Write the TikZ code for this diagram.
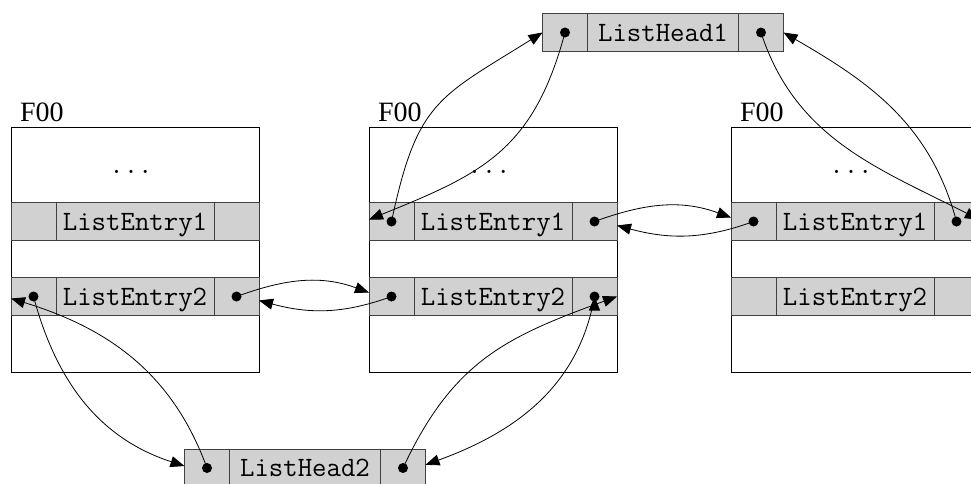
\documentclass[tikz,border=0pt]{standalone}
\usepackage{fontspec}
\newfontfamily\foofont{Liberation Serif}
\usetikzlibrary{%
  positioning
 ,arrows.meta
}

\begin{document}
\begin{tikzpicture}[x=1pt,y=-1pt]
    \useasboundingbox (0,0) rectangle (971,483);
    \clip (0,0) rectangle (971,483);
    \tikzstyle{foo}=[draw,line width=1pt,minimum width=248pt,
      minimum height=245pt,inner sep=0pt]
    \tikzstyle{cell}=[draw=black!75,fill=black!18,line width=1pt,
      minimum height=38pt,inner sep=0pt,outer sep=0pt,
      font=\fontsize{28pt}{30pt}\selectfont\ttfamily]
    \tikzstyle{ptr}=[cell,minimum width=45pt]
    \tikzstyle{ent}=[cell,minimum width=158pt,text depth=0pt]
    \tikzstyle{hd}=[cell,minimum width=151pt,text depth=0pt]
    % the three F00 records
    \foreach \i/\x in {1/135,2/493,3/855}{
      \node[foo](foo\i) at (\x,249.5){};
      \node[anchor=base west,font=\fontsize{28pt}{30pt}\selectfont\foofont]
        (foo\i-lbl) at ([xshift=6pt,yshift=5pt]foo\i.north west){F00};
      \node[anchor=base,font=\fontsize{28pt}{30pt}\selectfont\ttfamily]
        (foo\i-dots) at ([xshift=-4pt,yshift=-47pt]foo\i.north){...};
      \node[ent,below=76pt of foo\i.north](foo\i-e1){ListEntry1};
      \node[ptr,left=0pt of foo\i-e1](foo\i-e1l){};
      \node[ptr,right=0pt of foo\i-e1](foo\i-e1r){};
      \node[ent,below=151pt of foo\i.north](foo\i-e2){ListEntry2};
      \node[ptr,left=0pt of foo\i-e2](foo\i-e2l){};
      \node[ptr,right=0pt of foo\i-e2](foo\i-e2r){};
    }
    % list heads
    \node[hd](head1) at (663,32.5){ListHead1};
    \node[ptr,left=0pt of head1](head1l){};
    \node[ptr,right=0pt of head1](head1r){};
    \node[hd](head2) at (305,468){ListHead2};
    \node[ptr,left=0pt of head2](head2l){};
    \node[ptr,right=0pt of head2](head2r){};
    %
    \foreach \c in {foo1-e2l,foo1-e2r,foo2-e1l,foo2-e1r,foo2-e2l,foo2-e2r,
                    foo3-e1l,foo3-e1r,head1l,head1r,head2l,head2r}
      \fill (\c) circle (5pt);

    \tikzstyle{arr}=[-{Triangle[length=14pt,width=11pt]},line width=0.8pt]
    \draw[arr]
      (foo1-e2r.center) edge[out=20,in=160] (foo2-e2l.170)
      (foo2-e2l.center) edge[out=-160,in=-15] (foo1-e2r.-10)
      (foo2-e1r.center) edge[out=20,in=160] (foo3-e1l.170)
      (foo3-e1l.center) edge[out=-160,in=-15] (foo2-e1r.-10)
      % list 1
      (head1l.center) edge[out=-105,in=22,looseness=1.15] (foo2-e1l.175)
      (foo2-e1l.center) edge[out=78,in=212,looseness=1.3] (head1l.west)
      (head1r.center) edge[out=-72,in=153] (foo3-e1r.5)
      (foo3-e1r.center) edge[out=105,in=-30] (head1r.east)
      % list 2
      (foo1-e2l.center) edge[out=-75,in=162] (head2l.175)
      (head2l.center) edge[out=110,in=-17] (foo1-e2l.185)
      (head2r.center) edge[out=65,in=200,looseness=1.1] (foo2-e2r.east)
      (foo2-e2r.center) edge[out=-100,in=20] (head2r.8);
\end{tikzpicture}
\end{document}
